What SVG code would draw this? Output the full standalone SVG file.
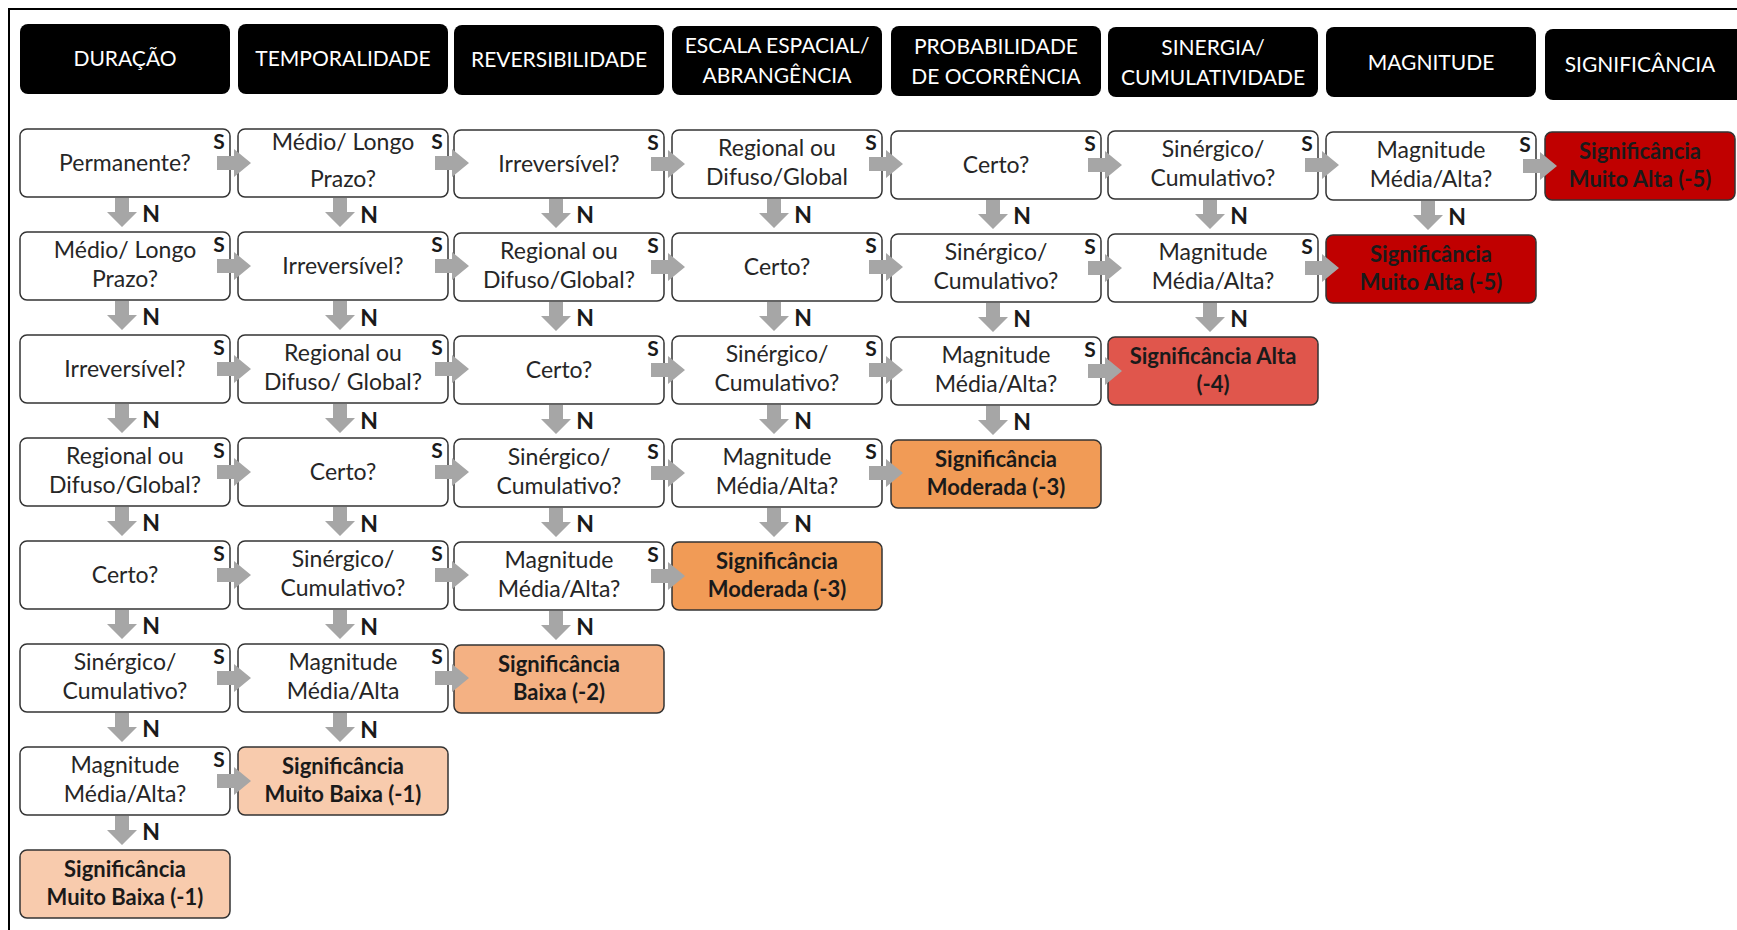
<svg xmlns="http://www.w3.org/2000/svg" xmlns:xlink="http://www.w3.org/1999/xlink" width="1737" height="930" viewBox="0 0 1737 930">
<style>
.hd{fill:#000;}
.ht{font-family:Lato,"Liberation Sans",sans-serif;font-size:21px;fill:#fff;text-anchor:middle;}
.q{fill:#fff;stroke:#333;stroke-width:1.5;}
.qt{font-family:Lato,"Liberation Sans",sans-serif;font-size:23px;fill:#262626;text-anchor:middle;}
.rt{font-family:Lato,"Liberation Sans",sans-serif;font-size:22px;font-weight:bold;fill:#1a1a1a;text-anchor:middle;}
.r1{fill:#F8CBAD;stroke:#333;stroke-width:1.5;}
.r2{fill:#F4B183;stroke:#333;stroke-width:1.5;}
.r3{fill:#F19B56;stroke:#333;stroke-width:1.5;}
.r4{fill:#E0564C;stroke:#333;stroke-width:1.5;}
.r5{fill:#C00000;stroke:#333;stroke-width:1.5;}
.s{font-family:Lato,"Liberation Sans",sans-serif;font-size:21px;font-weight:bold;fill:#1a1a1a;text-anchor:middle;}
.n{font-family:Lato,"Liberation Sans",sans-serif;font-size:23px;font-weight:bold;fill:#1a1a1a;text-anchor:middle;}
.ar{fill:#A6A6A6;}
</style>
<defs>
<path id="aR" class="ar" d="M-13,-7 H4 V-14 L21,0 L4,14 V7 H-13 Z"/>
<path id="aD" class="ar" d="M-7,1 H7 V15 H15 L0,30 L-15,15 H-7 Z"/>
</defs>
<rect width="1737" height="930" fill="#fff"/>
<g id="frame" fill="none" stroke="#000" stroke-width="2">
<path d="M9,930 V9 H1737"/>
</g>

<g id="headers">
<g id="h-duracao"><rect class="hd" x="20" y="24" width="210" height="70" rx="8"/><text class="ht" x="125" y="66">DURAÇÃO</text></g>
<g id="h-temporalidade"><rect class="hd" x="238" y="24" width="210" height="70" rx="8"/><text class="ht" x="343" y="66">TEMPORALIDADE</text></g>
<g id="h-reversibilidade"><rect class="hd" x="454" y="25" width="210" height="70" rx="8"/><text class="ht" x="559" y="67">REVERSIBILIDADE</text></g>
<g id="h-escala"><rect class="hd" x="672" y="26" width="210" height="69" rx="8"/><text class="ht" x="777" y="53">ESCALA ESPACIAL/</text><text class="ht" x="777" y="83">ABRANGÊNCIA</text></g>
<g id="h-probabilidade"><rect class="hd" x="891" y="26" width="210" height="70" rx="8"/><text class="ht" x="996" y="54">PROBABILIDADE</text><text class="ht" x="996" y="84">DE OCORRÊNCIA</text></g>
<g id="h-sinergia"><rect class="hd" x="1108" y="27" width="210" height="70" rx="8"/><text class="ht" x="1213" y="55">SINERGIA/</text><text class="ht" x="1213" y="85">CUMULATIVIDADE</text></g>
<g id="h-magnitude"><rect class="hd" x="1326" y="27" width="210" height="70" rx="8"/><text class="ht" x="1431" y="70">MAGNITUDE</text></g>
<g id="h-significancia"><rect class="hd" x="1545" y="29" width="200" height="71" rx="8"/><text class="ht" x="1640" y="72">SIGNIFICÂNCIA</text></g>
</g>

<g id="nodes">
<!-- column 0 -->
<g id="c0r0"><rect class="q" x="20" y="129" width="210" height="68" rx="7"/><text class="qt" x="125" y="171">Permanente?</text></g>
<g id="c0r1"><rect class="q" x="20" y="232" width="210" height="68" rx="7"/><text class="qt" x="125" y="258">Médio/ Longo</text><text class="qt" x="125" y="287">Prazo?</text></g>
<g id="c0r2"><rect class="q" x="20" y="335" width="210" height="68" rx="7"/><text class="qt" x="125" y="377">Irreversível?</text></g>
<g id="c0r3"><rect class="q" x="20" y="438" width="210" height="68" rx="7"/><text class="qt" x="125" y="464">Regional ou</text><text class="qt" x="125" y="493">Difuso/Global?</text></g>
<g id="c0r4"><rect class="q" x="20" y="541" width="210" height="68" rx="7"/><text class="qt" x="125" y="583">Certo?</text></g>
<g id="c0r5"><rect class="q" x="20" y="644" width="210" height="68" rx="7"/><text class="qt" x="125" y="670">Sinérgico/</text><text class="qt" x="125" y="699">Cumulativo?</text></g>
<g id="c0r6"><rect class="q" x="20" y="747" width="210" height="68" rx="7"/><text class="qt" x="125" y="773">Magnitude</text><text class="qt" x="125" y="802">Média/Alta?</text></g>
<g id="c0r7"><rect class="r1" x="20" y="850" width="210" height="68" rx="7"/><text class="rt" x="125" y="877">Significância</text><text class="rt" x="125" y="905">Muito Baixa (-1)</text></g>
<!-- column 1 -->
<g id="c1r0"><rect class="q" x="238" y="129" width="210" height="68" rx="7"/><text class="qt" x="343" y="150">Médio/ Longo</text><text class="qt" x="343" y="187">Prazo?</text></g>
<g id="c1r1"><rect class="q" x="238" y="232" width="210" height="68" rx="7"/><text class="qt" x="343" y="274">Irreversível?</text></g>
<g id="c1r2"><rect class="q" x="238" y="335" width="210" height="68" rx="7"/><text class="qt" x="343" y="361">Regional ou</text><text class="qt" x="343" y="390">Difuso/ Global?</text></g>
<g id="c1r3"><rect class="q" x="238" y="438" width="210" height="68" rx="7"/><text class="qt" x="343" y="480">Certo?</text></g>
<g id="c1r4"><rect class="q" x="238" y="541" width="210" height="68" rx="7"/><text class="qt" x="343" y="567">Sinérgico/</text><text class="qt" x="343" y="596">Cumulativo?</text></g>
<g id="c1r5"><rect class="q" x="238" y="644" width="210" height="68" rx="7"/><text class="qt" x="343" y="670">Magnitude</text><text class="qt" x="343" y="699">Média/Alta</text></g>
<g id="c1r6"><rect class="r1" x="238" y="747" width="210" height="68" rx="7"/><text class="rt" x="343" y="774">Significância</text><text class="rt" x="343" y="802">Muito Baixa (-1)</text></g>
<!-- column 2 -->
<g id="c2r0"><rect class="q" x="454" y="130" width="210" height="68" rx="7"/><text class="qt" x="559" y="172">Irreversível?</text></g>
<g id="c2r1"><rect class="q" x="454" y="233" width="210" height="68" rx="7"/><text class="qt" x="559" y="259">Regional ou</text><text class="qt" x="559" y="288">Difuso/Global?</text></g>
<g id="c2r2"><rect class="q" x="454" y="336" width="210" height="68" rx="7"/><text class="qt" x="559" y="378">Certo?</text></g>
<g id="c2r3"><rect class="q" x="454" y="439" width="210" height="68" rx="7"/><text class="qt" x="559" y="465">Sinérgico/</text><text class="qt" x="559" y="494">Cumulativo?</text></g>
<g id="c2r4"><rect class="q" x="454" y="542" width="210" height="68" rx="7"/><text class="qt" x="559" y="568">Magnitude</text><text class="qt" x="559" y="597">Média/Alta?</text></g>
<g id="c2r5"><rect class="r2" x="454" y="645" width="210" height="68" rx="7"/><text class="rt" x="559" y="672">Significância</text><text class="rt" x="559" y="700">Baixa (-2)</text></g>
<!-- column 3 -->
<g id="c3r0"><rect class="q" x="672" y="130" width="210" height="68" rx="7"/><text class="qt" x="777" y="156">Regional ou</text><text class="qt" x="777" y="185">Difuso/Global</text></g>
<g id="c3r1"><rect class="q" x="672" y="233" width="210" height="68" rx="7"/><text class="qt" x="777" y="275">Certo?</text></g>
<g id="c3r2"><rect class="q" x="672" y="336" width="210" height="68" rx="7"/><text class="qt" x="777" y="362">Sinérgico/</text><text class="qt" x="777" y="391">Cumulativo?</text></g>
<g id="c3r3"><rect class="q" x="672" y="439" width="210" height="68" rx="7"/><text class="qt" x="777" y="465">Magnitude</text><text class="qt" x="777" y="494">Média/Alta?</text></g>
<g id="c3r4"><rect class="r3" x="672" y="542" width="210" height="68" rx="7"/><text class="rt" x="777" y="569">Significância</text><text class="rt" x="777" y="597">Moderada (-3)</text></g>
<!-- column 4 -->
<g id="c4r0"><rect class="q" x="891" y="131" width="210" height="68" rx="7"/><text class="qt" x="996" y="173">Certo?</text></g>
<g id="c4r1"><rect class="q" x="891" y="234" width="210" height="68" rx="7"/><text class="qt" x="996" y="260">Sinérgico/</text><text class="qt" x="996" y="289">Cumulativo?</text></g>
<g id="c4r2"><rect class="q" x="891" y="337" width="210" height="68" rx="7"/><text class="qt" x="996" y="363">Magnitude</text><text class="qt" x="996" y="392">Média/Alta?</text></g>
<g id="c4r3"><rect class="r3" x="891" y="440" width="210" height="68" rx="7"/><text class="rt" x="996" y="467">Significância</text><text class="rt" x="996" y="495">Moderada (-3)</text></g>
<!-- column 5 -->
<g id="c5r0"><rect class="q" x="1108" y="131" width="210" height="68" rx="7"/><text class="qt" x="1213" y="157">Sinérgico/</text><text class="qt" x="1213" y="186">Cumulativo?</text></g>
<g id="c5r1"><rect class="q" x="1108" y="234" width="210" height="68" rx="7"/><text class="qt" x="1213" y="260">Magnitude</text><text class="qt" x="1213" y="289">Média/Alta?</text></g>
<g id="c5r2"><rect class="r4" x="1108" y="337" width="210" height="68" rx="7"/><text class="rt" x="1213" y="364">Significância Alta</text><text class="rt" x="1213" y="392">(-4)</text></g>
<!-- column 6 -->
<g id="c6r0"><rect class="q" x="1326" y="132" width="210" height="68" rx="7"/><text class="qt" x="1431" y="158">Magnitude</text><text class="qt" x="1431" y="187">Média/Alta?</text></g>
<g id="c6r1"><rect class="r5" x="1326" y="235" width="210" height="68" rx="7"/><text class="rt" x="1431" y="262">Significância</text><text class="rt" x="1431" y="290">Muito Alta (-5)</text></g>
<!-- column 7 -->
<g id="c7r0"><rect class="r5" x="1545" y="132" width="190" height="68" rx="7"/><text class="rt" x="1640" y="159">Significância</text><text class="rt" x="1640" y="187">Muito Alta (-5)</text></g>
</g>

<g id="connectors">
<!-- S arrows (right) -->
<use href="#aR" x="230" y="163"/><use href="#aR" x="230" y="266"/><use href="#aR" x="230" y="369"/><use href="#aR" x="230" y="472"/><use href="#aR" x="230" y="575"/><use href="#aR" x="230" y="678"/><use href="#aR" x="230" y="781"/>
<use href="#aR" x="448" y="163"/><use href="#aR" x="448" y="266"/><use href="#aR" x="448" y="369"/><use href="#aR" x="448" y="472"/><use href="#aR" x="448" y="575"/><use href="#aR" x="448" y="678"/>
<use href="#aR" x="664" y="164"/><use href="#aR" x="664" y="267"/><use href="#aR" x="664" y="370"/><use href="#aR" x="664" y="473"/><use href="#aR" x="664" y="576"/>
<use href="#aR" x="882" y="164"/><use href="#aR" x="882" y="267"/><use href="#aR" x="882" y="370"/><use href="#aR" x="882" y="473"/>
<use href="#aR" x="1101" y="165"/><use href="#aR" x="1101" y="268"/><use href="#aR" x="1101" y="371"/>
<use href="#aR" x="1318" y="165"/><use href="#aR" x="1318" y="268"/>
<use href="#aR" x="1536" y="166"/>
<!-- N arrows (down) -->
<use href="#aD" x="122" y="197"/><use href="#aD" x="122" y="300"/><use href="#aD" x="122" y="403"/><use href="#aD" x="122" y="506"/><use href="#aD" x="122" y="609"/><use href="#aD" x="122" y="712"/><use href="#aD" x="122" y="815"/>
<use href="#aD" x="340" y="197"/><use href="#aD" x="340" y="300"/><use href="#aD" x="340" y="403"/><use href="#aD" x="340" y="506"/><use href="#aD" x="340" y="609"/><use href="#aD" x="340" y="712"/>
<use href="#aD" x="556" y="198"/><use href="#aD" x="556" y="301"/><use href="#aD" x="556" y="404"/><use href="#aD" x="556" y="507"/><use href="#aD" x="556" y="610"/>
<use href="#aD" x="774" y="198"/><use href="#aD" x="774" y="301"/><use href="#aD" x="774" y="404"/><use href="#aD" x="774" y="507"/>
<use href="#aD" x="993" y="199"/><use href="#aD" x="993" y="302"/><use href="#aD" x="993" y="405"/>
<use href="#aD" x="1210" y="199"/><use href="#aD" x="1210" y="302"/>
<use href="#aD" x="1428" y="200"/>
<!-- S labels -->
<g id="s-labels">
<text class="s" x="219" y="149">S</text><text class="s" x="219" y="252">S</text><text class="s" x="219" y="355">S</text><text class="s" x="219" y="458">S</text><text class="s" x="219" y="561">S</text><text class="s" x="219" y="664">S</text><text class="s" x="219" y="767">S</text>
<text class="s" x="437" y="149">S</text><text class="s" x="437" y="252">S</text><text class="s" x="437" y="355">S</text><text class="s" x="437" y="458">S</text><text class="s" x="437" y="561">S</text><text class="s" x="437" y="664">S</text>
<text class="s" x="653" y="150">S</text><text class="s" x="653" y="253">S</text><text class="s" x="653" y="356">S</text><text class="s" x="653" y="459">S</text><text class="s" x="653" y="562">S</text>
<text class="s" x="871" y="150">S</text><text class="s" x="871" y="253">S</text><text class="s" x="871" y="356">S</text><text class="s" x="871" y="459">S</text>
<text class="s" x="1090" y="151">S</text><text class="s" x="1090" y="254">S</text><text class="s" x="1090" y="357">S</text>
<text class="s" x="1307" y="151">S</text><text class="s" x="1307" y="254">S</text>
<text class="s" x="1525" y="152">S</text>
</g>
<!-- N labels -->
<g id="n-labels">
<text class="n" x="151" y="222">N</text><text class="n" x="151" y="325">N</text><text class="n" x="151" y="428">N</text><text class="n" x="151" y="531">N</text><text class="n" x="151" y="634">N</text><text class="n" x="151" y="737">N</text><text class="n" x="151" y="840">N</text>
<text class="n" x="369" y="223">N</text><text class="n" x="369" y="326">N</text><text class="n" x="369" y="429">N</text><text class="n" x="369" y="532">N</text><text class="n" x="369" y="635">N</text><text class="n" x="369" y="738">N</text>
<text class="n" x="585" y="223">N</text><text class="n" x="585" y="326">N</text><text class="n" x="585" y="429">N</text><text class="n" x="585" y="532">N</text><text class="n" x="585" y="635">N</text>
<text class="n" x="803" y="223">N</text><text class="n" x="803" y="326">N</text><text class="n" x="803" y="429">N</text><text class="n" x="803" y="532">N</text>
<text class="n" x="1022" y="224">N</text><text class="n" x="1022" y="327">N</text><text class="n" x="1022" y="430">N</text>
<text class="n" x="1239" y="224">N</text><text class="n" x="1239" y="327">N</text>
<text class="n" x="1457" y="225">N</text>
</g>
</g>
</svg>
